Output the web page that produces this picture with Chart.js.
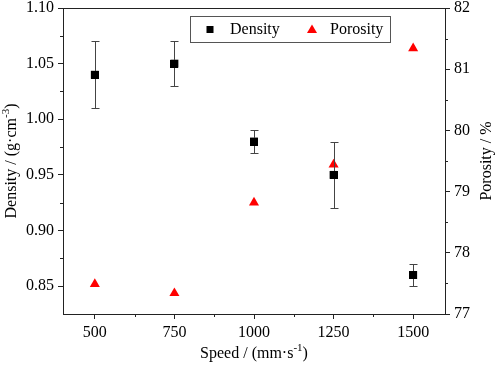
<!DOCTYPE html>
<html><head><meta charset="utf-8">
<script src="https://cdn.jsdelivr.net/npm/chart.js@4"></script>
<style>html,body{margin:0;padding:0;background:#fff}#wrap{width:498px;height:366px}</style>
</head><body><div id="wrap"><canvas id="c" width="498" height="366"></canvas></div>
<script>
const speeds = [500, 750, 1000, 1250, 1500];
const density = [1.04, 1.05, 0.98, 0.95, 0.86];
const densityErr = [0.03, 0.02, 0.01, 0.03, 0.01];
const porosity = [77.49, 77.34, 78.82, 79.44, 81.34];
const xTicks = [500, 750, 1000, 1250, 1500];
const densityTicks = [0.85, 0.90, 0.95, 1.00, 1.05, 1.10];
const porosityTicks = [77, 78, 79, 80, 81, 82];
const xTitle = 'Speed / (mm·s';
const leftTitle = 'Density / (g·cm';
const rightTitle = 'Porosity / %';
const legendLabels = ['Density', 'Porosity'];

const FONT = 'Liberation Serif';
const AX = '#222';

const extras = {
  id: 'extras',
  afterDatasetsDraw(chart) {
    const ctx = chart.ctx, a = chart.chartArea;
    const xs = chart.scales.x, yl = chart.scales.y, yr = chart.scales.y2;
    ctx.save();
    // frame top
    ctx.strokeStyle = AX; ctx.lineWidth = 1;
    ctx.beginPath(); ctx.moveTo(a.left, a.top + 0.5); ctx.lineTo(a.right, a.top + 0.5); ctx.stroke();
    // minor ticks
    ctx.beginPath();
    for (let i = 0; i < xTicks.length + 1; i++) {
      const v = (i === 0 ? xTicks[0] : xTicks[i - 1]) + (i === 0 ? -125 : 125);
      if (v <= xs.min || v >= xs.max) continue;
      const p = Math.round(xs.getPixelForValue(v)) + 0.5;
      ctx.moveTo(p, a.bottom); ctx.lineTo(p, a.bottom + 3);
    }
    for (let i = 0; i < densityTicks.length; i++) {
      const v = densityTicks[i] - 0.025;
      if (v <= yl.min) continue;
      const p = Math.round(yl.getPixelForValue(v)) + 0.5;
      ctx.moveTo(a.left, p); ctx.lineTo(a.left - 3, p);
    }
    for (let i = 1; i < porosityTicks.length; i++) {
      const v = porosityTicks[i] - 0.5;
      const p = Math.round(yr.getPixelForValue(v)) + 0.5;
      ctx.moveTo(a.right, p); ctx.lineTo(a.right + 3, p);
    }
    ctx.stroke();
    // error bars
    ctx.strokeStyle = '#444'; ctx.lineWidth = 1;
    ctx.beginPath();
    for (let i = 0; i < speeds.length; i++) {
      const x = Math.round(xs.getPixelForValue(speeds[i])) + 0.5;
      const t = Math.round(yl.getPixelForValue(density[i] + densityErr[i])) + 0.5;
      const b = Math.round(yl.getPixelForValue(density[i] - densityErr[i])) + 0.5;
      ctx.moveTo(x, t); ctx.lineTo(x, b);
      ctx.moveTo(x - 4, t); ctx.lineTo(x + 4, t);
      ctx.moveTo(x - 4, b); ctx.lineTo(x + 4, b);
    }
    ctx.stroke();
    // redraw markers on top of error bars
    ctx.fillStyle = '#000';
    for (let i = 0; i < speeds.length; i++) {
      const x = xs.getPixelForValue(speeds[i]), y = yl.getPixelForValue(density[i]);
      ctx.fillRect(Math.round(x - 4), Math.round(y - 4), 8, 8);
    }
    // axis titles
    ctx.fillStyle = '#000';
    ctx.textBaseline = 'middle';
    const fz = 16;
    function supTitle(base, sup, cx, cy, rot) {
      ctx.save();
      ctx.translate(cx, cy); ctx.rotate(rot);
      ctx.font = fz + 'px "' + FONT + '"';
      const w1 = ctx.measureText(base).width;
      ctx.font = '11px "' + FONT + '"';
      const w2 = ctx.measureText(sup).width;
      ctx.font = fz + 'px "' + FONT + '"';
      const w3 = ctx.measureText(')').width;
      const tw = w1 + w2 + w3;
      let x0 = -tw / 2;
      ctx.textAlign = 'left';
      ctx.fillText(base, x0, 0);
      ctx.font = '11px "' + FONT + '"';
      ctx.fillText(sup, x0 + w1, -6);
      ctx.font = fz + 'px "' + FONT + '"';
      ctx.fillText(')', x0 + w1 + w2, 0);
      ctx.restore();
    }
    supTitle(xTitle, '-1', (a.left + a.right) / 2, 354, 0);
    supTitle(leftTitle, '-3', 12, (a.top + a.bottom) / 2, -Math.PI / 2);
    ctx.save();
    ctx.translate(487, (a.top + a.bottom) / 2); ctx.rotate(-Math.PI / 2);
    ctx.font = fz + 'px "' + FONT + '"'; ctx.textAlign = 'center';
    ctx.fillText(rightTitle, 0, 0);
    ctx.restore();
    // legend
    const lx = 190, ly = 16, lw = 200, lh = 26;
    ctx.fillStyle = '#fff'; ctx.fillRect(lx, ly, lw, lh);
    ctx.strokeStyle = '#555'; ctx.strokeRect(lx + 0.5, ly + 0.5, lw, lh);
    const cy = ly + lh / 2 + 0.5;
    ctx.fillStyle = '#000'; ctx.fillRect(lx + 20 - 3.5, cy - 3.5, 7, 7);
    ctx.fillStyle = '#f00';
    ctx.beginPath(); ctx.moveTo(lx + 122, cy - 5); ctx.lineTo(lx + 127, cy + 3.5); ctx.lineTo(lx + 117, cy + 3.5); ctx.closePath(); ctx.fill();
    ctx.fillStyle = '#000'; ctx.font = '16px "' + FONT + '"'; ctx.textAlign = 'left';
    ctx.fillText(legendLabels[0], lx + 40, cy);
    ctx.fillText(legendLabels[1], lx + 140, cy);
    ctx.restore();
  }
};

const tickFont = { family: FONT, size: 16 };
const noPadY = s => { s.paddingTop = 0; s.paddingBottom = 0; };
new Chart(document.getElementById('c'), {
  type: 'scatter',
  data: {
    datasets: [
      { label: legendLabels[0], data: speeds.map((s, i) => ({ x: s, y: density[i] })), yAxisID: 'y',
        pointStyle: 'rect', pointRadius: 5.6, backgroundColor: '#000', borderColor: '#000', borderWidth: 0 },
      { label: legendLabels[1], data: speeds.map((s, i) => ({ x: s, y: porosity[i] })), yAxisID: 'y2',
        pointStyle: 'triangle', pointRadius: 5.8, backgroundColor: '#f00', borderColor: '#f00', borderWidth: 0 }
    ]
  },
  options: {
    responsive: false, animation: false, devicePixelRatio: 1,
    layout: { padding: { top: 8, left: 0, right: 0, bottom: 0 } },
    plugins: { legend: { display: false }, tooltip: { enabled: false } },
    scales: {
      x: {
        type: 'linear', min: 400, max: 1600,
        afterBuildTicks: s => { s.ticks = xTicks.map(v => ({ value: v })); },
        afterFit: s => { s.height = 52; s.paddingLeft = 0; s.paddingRight = 0; },
        ticks: { font: tickFont, color: '#000', padding: 4, callback: v => String(v) },
        grid: { drawOnChartArea: false, tickLength: 5, tickColor: AX },
        border: { color: AX }
      },
      y: {
        type: 'linear', position: 'left', min: 0.825, max: 1.10,
        afterBuildTicks: s => { s.ticks = densityTicks.map(v => ({ value: v })); },
        afterFit: s => { s.width = 63; noPadY(s); },
        ticks: { font: tickFont, color: '#000', padding: 4, callback: v => v.toFixed(2) },
        grid: { drawOnChartArea: false, tickLength: 5, tickColor: AX },
        border: { color: AX }
      },
      y2: {
        type: 'linear', position: 'right', min: 77, max: 82,
        afterBuildTicks: s => { s.ticks = porosityTicks.map(v => ({ value: v })); },
        afterFit: s => { s.width = 53; noPadY(s); },
        ticks: { font: tickFont, color: '#000', padding: 4, callback: v => String(v) },
        grid: { drawOnChartArea: false, tickLength: 5, tickColor: AX },
        border: { color: AX }
      }
    }
  },
  plugins: [extras]
});
</script></body></html>
